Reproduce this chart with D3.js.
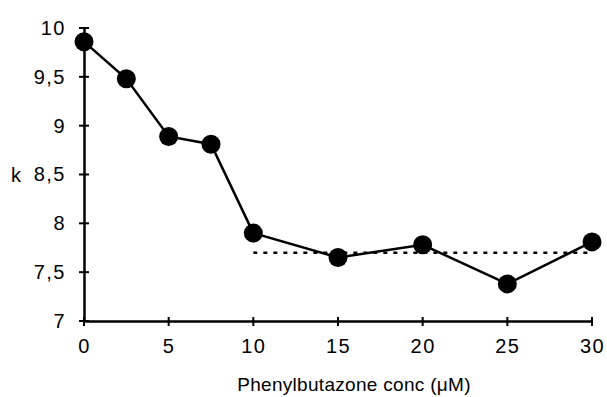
<!DOCTYPE html>
<html>
<head>
<meta charset="utf-8">
<script src="https://cdn.jsdelivr.net/npm/d3@7"></script>
<style>
    body { margin: 0; background: #fff; }
    text { font-family: "Liberation Sans", Arial, sans-serif; fill: #000; }
</style>
</head>
<body>
<div id="chart"></div>
<script>
// data
const conc = [0, 2.5, 5, 7.5, 10, 15, 20, 25, 30]
const kValues = [9.86, 9.48, 8.89, 8.81, 7.90, 7.65, 7.78, 7.38, 7.81]
const plateau = { from: 10, to: 30, k: 7.7 }
const xTicks = [0, 5, 10, 15, 20, 25, 30]
const yTicks = [7, 7.5, 8, 8.5, 9, 9.5, 10]
const yTickLabels = ["7", "7,5", "8", "8,5", "9", "9,5", "10"]

const width = 607, height = 397
const margin = ({ top: 28, right: 15, bottom: 76, left: 84 })
const labelFont = "Liberation Sans, Arial, sans-serif"

var svg = d3.select("#chart").append("svg")
    .attr("width", width)
    .attr("height", height)

var x = d3.scaleLinear()
    .domain([0, 30])
    .range([margin.left, width - margin.right])

var y = d3.scaleLinear()
    .domain([7, 10])
    .range([height - margin.bottom, margin.top])

// style tick labels the same way on both axes
const styleTicks = g => g.selectAll(".tick text")
    .attr("font-size", 20)
    .attr("font-family", labelFont)
    .attr("letter-spacing", 1.5)
    .attr("fill", "#000")

// x axis, ticks crossing the line
svg.append("g")
    .attr("transform", `translate(0,${y(7)})`)
    .call(d3.axisBottom(x).tickValues(xTicks).tickSize(0).tickPadding(18))
    .call(g => g.select(".domain").attr("stroke", "#000").attr("stroke-width", 2.5))
    .call(g => g.selectAll(".tick line").remove())
    .call(styleTicks)

svg.append("g")
    .selectAll("line")
    .data(xTicks)
    .join("line")
    .attr("x1", d => x(d)).attr("x2", d => x(d))
    .attr("y1", y(7) - 4).attr("y2", y(7) + 5)
    .attr("stroke", "#000").attr("stroke-width", 2)

// y axis
svg.append("g")
    .attr("transform", `translate(${x(0)},0)`)
    .call(d3.axisLeft(y).tickValues(yTicks).tickFormat((d, i) => yTickLabels[i]).tickSize(0).tickPadding(18))
    .call(g => g.select(".domain").attr("stroke", "#000").attr("stroke-width", 2.5))
    .call(g => g.selectAll(".tick line").remove())
    .call(styleTicks)

svg.append("g")
    .selectAll("line")
    .data(yTicks)
    .join("line")
    .attr("x1", x(0) - 5).attr("x2", x(0) + 5)
    .attr("y1", d => y(d)).attr("y2", d => y(d))
    .attr("stroke", "#000").attr("stroke-width", 2)

// dotted plateau line
svg.append("line")
    .attr("x1", x(plateau.from)).attr("x2", x(plateau.to))
    .attr("y1", y(plateau.k)).attr("y2", y(plateau.k))
    .attr("stroke", "#000")
    .attr("stroke-width", 2.5)
    .attr("stroke-dasharray", "4,6")

// data line + markers
var points = conc.map((c, i) => [c, kValues[i]])

svg.append("path")
    .datum(points)
    .attr("fill", "none")
    .attr("stroke", "#000")
    .attr("stroke-width", 2.5)
    .attr("d", d3.line().x(d => x(d[0])).y(d => y(d[1])))

svg.append("g")
    .selectAll("circle")
    .data(points)
    .join("circle")
    .attr("cx", d => x(d[0]))
    .attr("cy", d => y(d[1]))
    .attr("r", 9.5)
    .attr("fill", "#000")

// axis labels
svg.append("text")
    .attr("x", 11)
    .attr("y", y(8.5) + 7)
    .attr("font-size", 20)
    .text("k")

svg.append("text")
    .attr("x", 354)
    .attr("y", 391)
    .attr("text-anchor", "middle")
    .attr("font-size", 19)
    .attr("letter-spacing", 0.3)
    .text("Phenylbutazone conc (μM)")
</script>
</body>
</html>
